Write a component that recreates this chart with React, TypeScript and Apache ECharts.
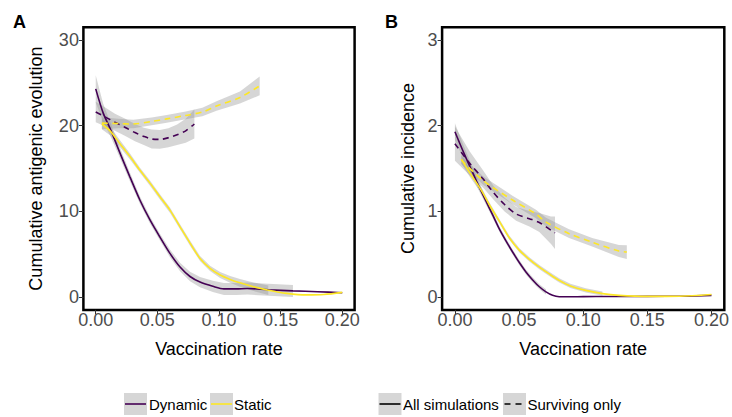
import React, { useEffect, useRef } from "react";
import * as echarts from "echarts";

// ---------- tick labels ----------
const xTicks = [0, 0.05, 0.1, 0.15, 0.2];
const yTicksA = [0, 10, 20, 30];
const yTicksB = [0, 1, 2, 3];

// ---------- Panel A: cumulative antigenic evolution ----------
const aDynAllX = [0, 0.006, 0.0116, 0.0197, 0.0278, 0.0359, 0.044, 0.0521, 0.0602, 0.0684, 0.0765, 0.0846, 0.095, 0.104, 0.114, 0.123, 0.14, 0.16, 0.18, 0.2];
const aDynAllY = [24.3, 21.5, 19.7, 16.8, 14.0, 11.3, 9.0, 7.0, 5.1, 3.5, 2.4, 1.75, 1.25, 0.95, 0.95, 1.0, 0.85, 0.72, 0.62, 0.5];
const aDynAllSe = [1.6, 1.1, 0.8, 0.6, 0.5, 0.45, 0.4, 0.4, 0.45, 0.5, 0.55, 0.6, 0.65, 0.7, 0.7, 0.7, 0.7, 0.7, 0.75, 0.8];

const aStaAllX = [0.005, 0.0116, 0.0197, 0.0278, 0.0359, 0.044, 0.0521, 0.0602, 0.0684, 0.0765, 0.0846, 0.0927, 0.1009, 0.109, 0.117, 0.128, 0.14, 0.155, 0.171, 0.185, 0.2];
const aStaAllY = [20.2, 19.4, 17.9, 16.4, 14.8, 13.3, 11.7, 10.15, 8.2, 6.3, 4.5, 3.35, 2.57, 2.06, 1.66, 1.2, 0.8, 0.43, 0.25, 0.3, 0.55];
const aStaAllSe = [0.6, 0.5, 0.4, 0.35, 0.3, 0.3, 0.3, 0.3, 0.3, 0.3, 0.3, 0.3, 0.35, 0.4, 0.45, 0.5, 0.55, 0.6, 0.6, 0.6, 0.6];

const aDynSurvX = [0, 0.008, 0.0156, 0.024, 0.0318, 0.039, 0.0454, 0.052, 0.059, 0.066, 0.073, 0.08];
const aDynSurvY = [21.6, 21.0, 20.4, 19.8, 19.2, 18.75, 18.45, 18.4, 18.6, 18.95, 19.4, 20.2];
const aDynSurvSe = [1.2, 1.1, 1.0, 1.0, 1.0, 1.0, 1.1, 1.1, 1.1, 1.2, 1.4, 1.7];

const aStaSurvX = [0.005, 0.0184, 0.0305, 0.0454, 0.0576, 0.073, 0.0865, 0.098, 0.117, 0.133];
const aStaSurvY = [20.3, 20.25, 20.2, 20.5, 20.8, 21.2, 21.6, 22.3, 23.3, 24.65];
const aStaSurvSe = [0.7, 0.55, 0.5, 0.45, 0.45, 0.45, 0.5, 0.55, 0.7, 1.1];

// ---------- Panel B: cumulative incidence ----------
const bDynAllX = [0, 0.007, 0.0142, 0.0194, 0.0245, 0.0297, 0.0348, 0.04, 0.0452, 0.0503, 0.0555, 0.0606, 0.0658, 0.071, 0.0761, 0.0813, 0.09, 0.1, 0.12, 0.15, 0.18, 0.2];
const bDynAllY = [1.93, 1.68, 1.44, 1.27, 1.11, 0.95, 0.79, 0.65, 0.52, 0.4, 0.29, 0.2, 0.12, 0.06, 0.02, 0.004, 0.003, 0.005, 0.006, 0.008, 0.01, 0.02];
const bDynAllSe = [0.1, 0.08, 0.06, 0.05, 0.04, 0.035, 0.03, 0.03, 0.03, 0.03, 0.03, 0.03, 0.03, 0.03, 0.03, 0.03, 0.03, 0.03, 0.03, 0.03, 0.03, 0.03];

const bStaAllX = [0.005, 0.0116, 0.0206, 0.0275, 0.0348, 0.0425, 0.0503, 0.058, 0.0658, 0.0735, 0.0813, 0.09, 0.102, 0.115, 0.128, 0.15, 0.175, 0.2];
const bStaAllY = [1.61, 1.45, 1.245, 1.06, 0.88, 0.69, 0.545, 0.44, 0.35, 0.27, 0.195, 0.13, 0.078, 0.04, 0.02, 0.008, 0.01, 0.03];
const bStaAllSe = [0.05, 0.045, 0.035, 0.03, 0.025, 0.025, 0.025, 0.025, 0.025, 0.025, 0.025, 0.025, 0.025, 0.025, 0.025, 0.025, 0.025, 0.025];

const bDynSurvX = [0, 0.0116, 0.0219, 0.03, 0.0387, 0.0477, 0.058, 0.0658, 0.0749, 0.078];
const bDynSurvY = [1.79, 1.56, 1.38, 1.22, 1.08, 0.97, 0.915, 0.87, 0.78, 0.75];
const bDynSurvSe = [0.2, 0.14, 0.1, 0.08, 0.08, 0.08, 0.09, 0.11, 0.16, 0.19];

const bStaSurvX = [0.005, 0.0219, 0.0452, 0.0632, 0.071, 0.089, 0.107, 0.1278, 0.134];
const bStaSurvY = [1.6, 1.36, 1.13, 0.97, 0.875, 0.74, 0.64, 0.537, 0.525];
const bStaSurvSe = [0.05, 0.05, 0.05, 0.05, 0.05, 0.05, 0.05, 0.07, 0.08];

// ---------- legend ----------
const colourLabels = ["Dynamic", "Static"];
const lineLabels = ["All simulations", "Surviving only"];

const PURPLE = "#440154";
const YELLOW = "#FDE725";
const DASH = [6, 4.5];
const FONT = "Liberation Sans, Arial, Helvetica, sans-serif";

type Curve = { x: number[]; y: number[]; se: number[]; color: string; dashed: boolean; panel: number };

const curves: Curve[] = [
  { x: aDynAllX, y: aDynAllY, se: aDynAllSe, color: PURPLE, dashed: false, panel: 0 },
  { x: aStaAllX, y: aStaAllY, se: aStaAllSe, color: YELLOW, dashed: false, panel: 0 },
  { x: aDynSurvX, y: aDynSurvY, se: aDynSurvSe, color: PURPLE, dashed: true, panel: 0 },
  { x: aStaSurvX, y: aStaSurvY, se: aStaSurvSe, color: YELLOW, dashed: true, panel: 0 },
  { x: bDynAllX, y: bDynAllY, se: bDynAllSe, color: PURPLE, dashed: false, panel: 1 },
  { x: bStaAllX, y: bStaAllY, se: bStaAllSe, color: YELLOW, dashed: false, panel: 1 },
  { x: bDynSurvX, y: bDynSurvY, se: bDynSurvSe, color: PURPLE, dashed: true, panel: 1 },
  { x: bStaSurvX, y: bStaSurvY, se: bStaSurvSe, color: YELLOW, dashed: true, panel: 1 },
];

// ribbon rows are dropped where the lower bound falls below the axis limit (0)
function ribbonSegments(c: Curve): number[][][] {
  const segs: number[][][] = [];
  let cur: number[][] = [];
  for (let i = 0; i < c.x.length; i++) {
    const lo = c.y[i] - c.se[i];
    if (lo < 0) {
      if (cur.length > 1) segs.push(cur);
      cur = [];
      continue;
    }
    cur.push([c.x[i], lo, c.y[i] + c.se[i]]);
  }
  if (cur.length > 1) segs.push(cur);
  return segs;
}

function buildOption() {
  const series: any[] = [];
  curves.forEach((c) => {
    ribbonSegments(c).forEach((rows) => {
      series.push({
        type: "custom",
        xAxisIndex: c.panel,
        yAxisIndex: c.panel,
        silent: true,
        z: 1,
        clip: true,
        encode: { x: 0, y: [1, 2] },
        data: rows,
        renderItem: (params: any, api: any) => {
          if (params.dataIndex !== 0) return null;
          const upper = rows.map((r) => api.coord([r[0], r[2]]));
          const lower = rows.slice().reverse().map((r) => api.coord([r[0], r[1]]));
          return {
            type: "polygon",
            shape: { points: upper.concat(lower), smooth: 0 },
            style: { fill: "rgba(153,153,153,0.4)" },
          };
        },
      });
    });
  });
  curves.forEach((c) => {
    series.push({
      type: "line",
      xAxisIndex: c.panel,
      yAxisIndex: c.panel,
      z: 3,
      silent: true,
      showSymbol: false,
      symbol: "none",
      smooth: 0.3,
      data: c.x.map((xv, i) => [xv, c.y[i]]),
      lineStyle: { color: c.color, width: 1.6, type: c.dashed ? DASH : "solid" },
    });
  });

  const xAxisCommon = (gridIndex: number) => ({
    type: "value",
    gridIndex,
    min: -0.01,
    max: 0.21,
    name: "Vaccination rate",
    nameLocation: "middle",
    nameGap: 30,
    nameMoveOverlap: false,
    nameTextStyle: { color: "#000", fontSize: 18, fontFamily: FONT },
    axisLine: { show: false, onZero: false },
    splitLine: { show: false },
    axisTick: { show: true, inside: false, length: 4.5, lineStyle: { color: "#333", width: 1 }, customValues: xTicks },
    axisLabel: {
      color: "#4d4d4d",
      fontSize: 18,
      fontFamily: FONT,
      margin: 1,
      customValues: xTicks,
      formatter: (v: number) => v.toFixed(2),
    },
  });

  const yAxisCommon = (gridIndex: number, min: number, max: number, ticks: number[], name: string, gap: number) => ({
    type: "value",
    gridIndex,
    min,
    max,
    name,
    nameLocation: "middle",
    nameGap: gap,
    nameMoveOverlap: false,
    nameTextStyle: { color: "#000", fontSize: 18, fontFamily: FONT },
    axisLine: { show: false, onZero: false },
    splitLine: { show: false },
    axisTick: { show: true, inside: false, length: 4.5, lineStyle: { color: "#333", width: 1 }, customValues: ticks },
    axisLabel: { color: "#4d4d4d", fontSize: 18, fontFamily: FONT, margin: 4.5, customValues: ticks },
  });

  const keyY = 393;
  const keyH = 22;
  const keyW = 23;
  const midY = keyY + keyH / 2;
  const legendItems = [
    { kx: 124, tx: 149, text: colourLabels[0], color: PURPLE, dashed: false },
    { kx: 210, tx: 234, text: colourLabels[1], color: YELLOW, dashed: false },
    { kx: 378.5, tx: 403, text: lineLabels[0], color: "#000", dashed: false },
    { kx: 503, tx: 527.5, text: lineLabels[1], color: "#000", dashed: true },
  ];
  const graphic: any[] = [
    { type: "text", left: 13, top: 13, style: { text: "A", font: `bold 18px ${FONT}`, fill: "#000" } },
    { type: "text", left: 385, top: 13, style: { text: "B", font: `bold 18px ${FONT}`, fill: "#000" } },
  ];
  legendItems.forEach((it) => {
    graphic.push({ type: "rect", shape: { x: it.kx, y: keyY, width: keyW, height: keyH }, style: { fill: "#d6d6d6" } });
    graphic.push({
      type: "line",
      shape: it.dashed ? { x1: it.kx + 1.5, y1: midY, x2: it.kx + keyW - 1, y2: midY } : { x1: it.kx + 1, y1: midY, x2: it.kx + keyW - 1, y2: midY },
      style: { stroke: it.color, lineWidth: 1.6, lineDash: it.dashed ? [6, 5] : null },
    });
    graphic.push({
      type: "text",
      x: it.tx,
      y: midY,
      style: { text: it.text, font: `15px ${FONT}`, fill: "#000", verticalAlign: "middle", align: "left" },
    });
  });

  return {
    animation: false,
    backgroundColor: "#fff",
    grid: [
      { left: 83.4, top: 27.2, width: 271.2, height: 282.7, show: true, borderColor: "#000", borderWidth: 2.5, backgroundColor: "transparent", containLabel: false },
      { left: 442.1, top: 27.2, width: 284.1, height: 282.7, show: true, borderColor: "#000", borderWidth: 2.5, backgroundColor: "transparent", containLabel: false },
    ],
    xAxis: [xAxisCommon(0), xAxisCommon(1)],
    yAxis: [
      yAxisCommon(0, -1.5, 31.5, yTicksA, "Cumulative antigenic evolution", 38),
      yAxisCommon(1, -0.15, 3.15, yTicksB, "Cumulative incidence", 25),
    ],
    series,
    graphic,
  };
}

export default function App() {
  const ref = useRef<HTMLDivElement>(null);
  useEffect(() => {
    if (!ref.current) return;
    const chart = echarts.init(ref.current, undefined, { renderer: "svg" });
    chart.setOption(buildOption() as any);
    return () => chart.dispose();
  }, []);
  return <div ref={ref} style={{ position: "fixed", left: 0, top: 0, width: 732, height: 417 }} />;
}
